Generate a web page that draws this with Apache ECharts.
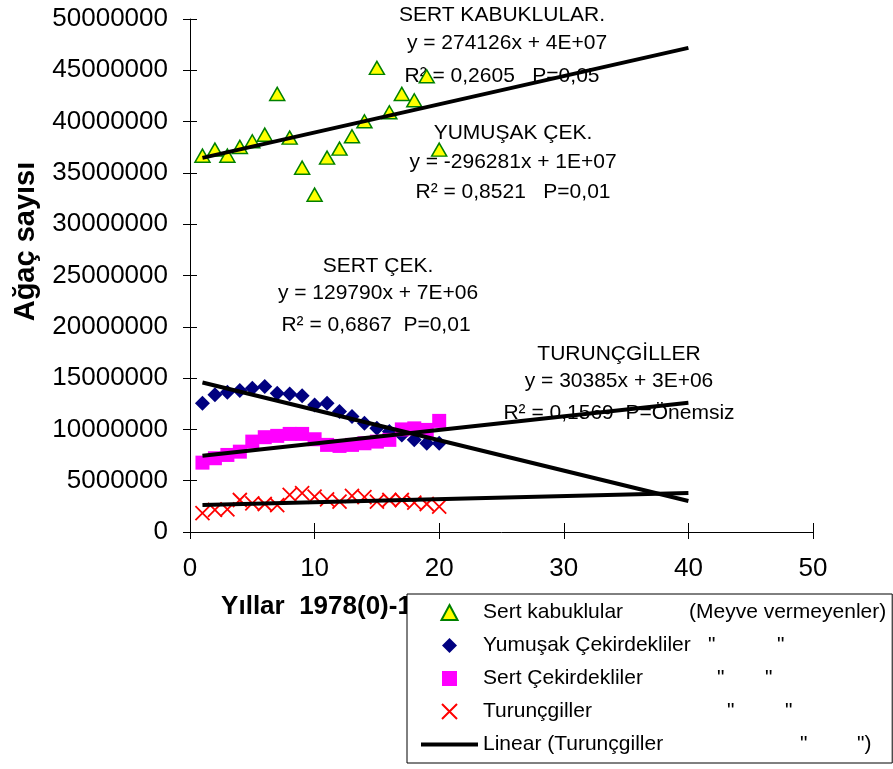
<!DOCTYPE html>
<html>
<head>
<meta charset="utf-8">
<title>Ağaç sayısı</title>
<script src="https://cdn.jsdelivr.net/npm/echarts@6/dist/echarts.min.js"></script>
<style>
    html, body { margin: 0; padding: 0; background: #fff; }
    #main { width: 893px; height: 769px; }
</style>
</head>
<body>
<div id="main"></div>
<script>
// yillar: 1978 = 0
var years = [1, 2, 3, 4, 5, 6, 7, 8, 9, 10, 11, 12, 13, 14, 15, 16, 17, 18, 19, 20];

var sertKabuklular = [36680000, 37270000, 36680000, 37530000, 38080000, 38730000, 42700000, 38440000, 35510000, 32880000,
    36490000, 37370000, 38570000, 40030000, 45240000, 40910000, 42700000, 42080000, 44420000, 37270000];
var yumusakCek = [12560000, 13370000, 13630000, 13790000, 14020000, 14180000, 13530000, 13460000, 13270000, 12390000,
    12560000, 11740000, 11250000, 10600000, 10120000, 9790000, 9460000, 8980000, 8650000, 8650000];
var sertCek = [6760000, 7190000, 7510000, 7830000, 8810000, 9240000, 9370000, 9560000, 9560000, 9040000,
    8490000, 8390000, 8490000, 8650000, 8810000, 8980000, 10000000, 10100000, 9950000, 10830000];
var turuncgiller = [1850000, 2150000, 2210000, 3120000, 2800000, 2730000, 2630000, 3610000, 3780000, 3440000,
    3190000, 2960000, 3510000, 3390000, 2960000, 3120000, 3120000, 2860000, 2730000, 2470000];

// trend cizgileri (uc noktalar)
var trendSertKabuk = [[1, 36460000], [40, 47190000]];
var trendYumusak = [[1, 14570000], [40, 3020000]];
var trendSertCek = [[1, 7440000], [40, 12600000]];
var trendTurunc = [[1, 2630000], [40, 3800000]];

var yTicks = { min: 0, max: 50000000, interval: 5000000 };
var xTicks = { min: 0, max: 50, interval: 10 };

var notes = [
    ['SERT KABUKLULAR.', 502, 15],
    ['y = 274126x + 4E+07', 507, 43],
    ['R² = 0,2605   P=0,05', 502, 76],
    ['YUMUŞAK ÇEK.', 513, 133],
    ['y = -296281x + 1E+07', 513, 162],
    ['R² = 0,8521   P=0,01', 513, 192],
    ['SERT ÇEK.', 378, 266],
    ['y = 129790x + 7E+06', 378, 293],
    ['R² = 0,6867  P=0,01', 376, 325],
    ['TURUNÇGİLLER', 619, 354],
    ['y = 30385x + 3E+06', 619, 381],
    ['R² = 0,1569  P=Önemsiz', 619, 413]
];

var FONT = "'Liberation Sans', Arial, sans-serif";

// isaretler (path => legend'da da oran korunur)
var TRIANGLE = 'path://M7.5,0L15,14L0,14Z';
var DIAMOND = 'path://M5,0L10,5L5,10L0,5Z';
var SQUARE = 'path://M0,0L10,0L10,10L0,10Z';
var CROSS = 'path://M0,0L10,10M0,10L10,0';

function pairs(vals) {
    return years.map(function (x, i) { return [x, vals[i]]; });
}

var legendText = {
    'Sert kabuklular': '{k1|Sert kabuklular}{t|(Meyve vermeyenler)}',
    'Yumuşak Çekirdekliler': '{k2|Yumuşak Çekirdekliler}{d2|"}{t|"}',
    'Sert Çekirdekliler': '{k3|Sert Çekirdekliler}{d3|"}{t|"}',
    'Turunçgiller': '{k4|Turunçgiller}{d4|"}{t|"}',
    'Linear (Turunçgiller)': '{k5|Linear (Turunçgiller}{d5|"}{t|")}'
};

function rich(w) {
    var r = { fontSize: 21, fontFamily: FONT, color: '#000', lineHeight: 21 };
    if (w) r.width = w;
    return r;
}

var chart = echarts.init(document.getElementById('main'));

var trendLine = function (name, data) {
    return {
        name: name,
        type: 'line',
        data: data,
        symbol: 'none',
        silent: true,
        lineStyle: { color: '#000', width: 4 },
        itemStyle: { color: '#000' },
        z: 3
    };
};

var option = {
    animation: false,
    backgroundColor: '#fff',
    textStyle: { fontFamily: FONT },
    grid: { left: 190, top: 19, right: 80, bottom: 237, outerBoundsMode: 'none' },
    graphic: notes.map(function (n) {
        return {
            type: 'text',
            x: n[1],
            y: n[2],
            z: 0,
            style: {
                text: n[0],
                align: 'center',
                verticalAlign: 'middle',
                fontSize: 21,
                fontFamily: FONT,
                fill: '#000'
            }
        };
    }),
    xAxis: [{
        type: 'value',
        min: xTicks.min, max: xTicks.max, interval: xTicks.interval,
        position: 'bottom',
        name: 'Yıllar  1978(0)-1998(20)',
        nameLocation: 'middle',
        nameGap: 62,
        nameTextStyle: { fontSize: 26, fontWeight: 'bold', color: '#000', fontFamily: FONT, align: 'right' },
        axisLine: { lineStyle: { color: '#000', width: 1 } },
        axisTick: { length: 7, lineStyle: { color: '#000' } },
        axisLabel: { fontSize: 26, color: '#000', margin: 24, fontFamily: FONT },
        splitLine: { show: false }
    }, {
        // icerideki tick'ler
        type: 'value',
        min: xTicks.min, max: xTicks.max, interval: xTicks.interval,
        position: 'bottom',
        axisLine: { show: false },
        axisTick: { inside: true, length: 9, lineStyle: { color: '#000' } },
        axisLabel: { show: false },
        splitLine: { show: false }
    }],
    yAxis: [{
        type: 'value',
        min: yTicks.min, max: yTicks.max, interval: yTicks.interval,
        position: 'left',
        name: 'Ağaç sayısı',
        nameLocation: 'middle',
        nameGap: 150,
        nameTextStyle: { fontSize: 29, fontWeight: 'bold', color: '#000', fontFamily: FONT, padding: [0, 0, 0, 68] },
        axisLine: { show: true, lineStyle: { color: '#000', width: 1 } },
        axisTick: { show: true, length: 7, lineStyle: { color: '#000' } },
        axisLabel: {
            fontSize: 26, color: '#000', margin: 22, fontFamily: FONT,
            formatter: function (v) { return String(v); }
        },
        splitLine: { show: false }
    }, {
        type: 'value',
        min: yTicks.min, max: yTicks.max, interval: yTicks.interval,
        position: 'left',
        axisLine: { show: false },
        axisTick: { show: true, inside: true, length: 7, lineStyle: { color: '#000' } },
        axisLabel: { show: false },
        splitLine: { show: false }
    }],
    legend: {
        orient: 'vertical',
        left: 407,
        top: 594,
        padding: [8, 6, 8, 12],
        itemWidth: 57,
        itemHeight: 15,
        itemGap: 12,
        symbolKeepAspect: true,
        selectedMode: false,
        backgroundColor: '#fff',
        borderColor: '#000',
        borderWidth: 1,
        borderRadius: 0,
        z: 10,
        data: ['Sert kabuklular', 'Yumuşak Çekirdekliler', 'Sert Çekirdekliler', 'Turunçgiller',
            { name: 'Linear (Turunçgiller)', itemStyle: { opacity: 0 }, lineStyle: { color: '#000', width: 4 } }],
        formatter: function (name) { return legendText[name]; },
        textStyle: {
            fontSize: 21, fontFamily: FONT, color: '#000',
            rich: {
                k1: rich(206), k2: rich(225), d2: rich(69), k3: rich(234), d3: rich(48),
                k4: rich(244), d4: rich(58), k5: rich(317), d5: rich(57), t: rich()
            }
        }
    },
    series: [{
        name: 'Sert kabuklular',
        type: 'scatter',
        data: pairs(sertKabuklular),
        symbol: TRIANGLE,
        symbolSize: [15, 14],
        symbolKeepAspect: true,
        itemStyle: { color: '#ffff00', borderColor: '#008000', borderWidth: 1.5, opacity: 1 }
    }, {
        name: 'Yumuşak Çekirdekliler',
        type: 'scatter',
        data: pairs(yumusakCek),
        symbol: DIAMOND,
        symbolSize: 15,
        symbolKeepAspect: true,
        itemStyle: { color: '#000080', opacity: 1 }
    }, {
        name: 'Sert Çekirdekliler',
        type: 'scatter',
        data: pairs(sertCek),
        symbol: SQUARE,
        symbolSize: 14,
        symbolKeepAspect: true,
        itemStyle: { color: '#ff00ff', opacity: 1 }
    }, {
        name: 'Turunçgiller',
        type: 'scatter',
        data: pairs(turuncgiller),
        symbol: CROSS,
        symbolSize: 14,
        symbolKeepAspect: true,
        itemStyle: { color: '#ff0000', borderColor: '#ff0000', borderWidth: 1.8, opacity: 1 }
    },
        trendLine('Linear (Sert kabuklular)', trendSertKabuk),
        trendLine('Linear (Yumuşak Çekirdekliler)', trendYumusak),
        trendLine('Linear (Sert Çekirdekliler)', trendSertCek),
        trendLine('Linear (Turunçgiller)', trendTurunc)
    ]
};

chart.setOption(option);

window.onresize = function () {
    chart.resize();
};
</script>
</body>
</html>
